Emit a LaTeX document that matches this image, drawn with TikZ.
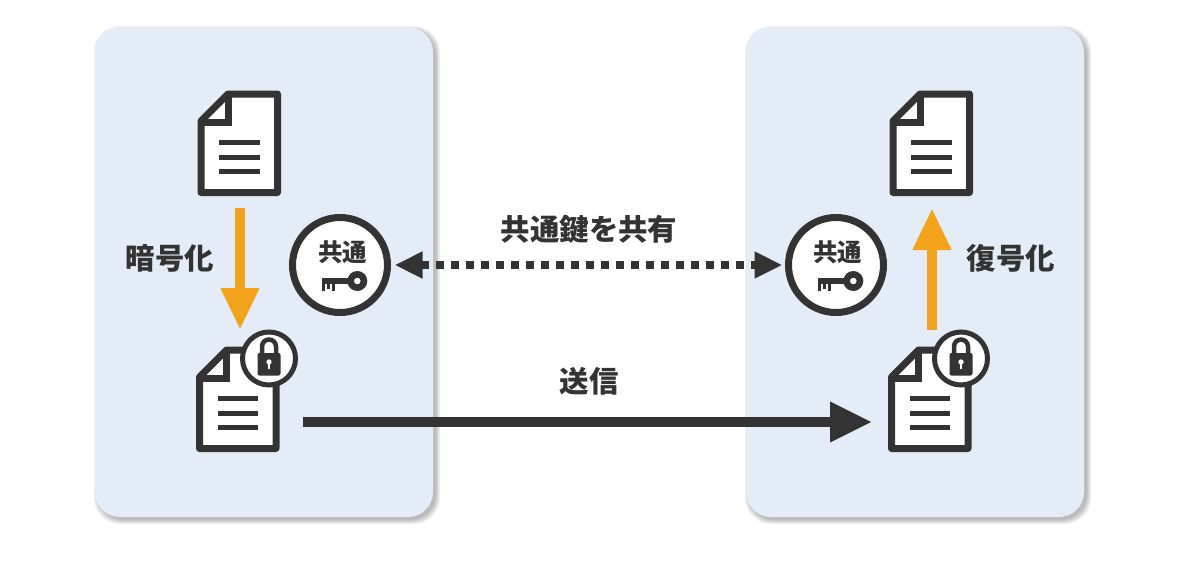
\documentclass[tikz,border=0pt]{standalone}
\usepackage{fontspec}
\setmainfont{Noto Sans CJK JP}
\usetikzlibrary{arrows.meta}

\definecolor{panelblue}{HTML}{E4ECF7}
\definecolor{inkgray}{HTML}{333333}
\definecolor{flowamber}{HTML}{F2A31B}

\tikzset{
    panelbox/.style={fill=panelblue, rounded corners=25pt},
    docnode/.style={minimum width=83pt, minimum height=106pt, inner sep=0pt, outer sep=0pt},
    keynode/.style={circle, draw=inkgray, fill=white, line width=7pt, minimum size=95pt, inner sep=0pt},
    caption/.style={text=inkgray, font=\bfseries\fontsize{29.4}{29}\selectfont, inner sep=0pt},
    smallcaption/.style={text=inkgray, font=\bfseries\fontsize{24.5}{25}\selectfont, inner sep=0pt},
    flowarrow/.style={draw=flowamber, line width=10.5pt, -{Triangle[length=42pt,width=36pt,fill=flowamber]}},
    sendarrow/.style={draw=inkgray, line width=10pt, -{Triangle[length=42pt,width=38pt,fill=inkgray]}},
    sharearrow/.style={draw=inkgray, line width=8pt, dash pattern=on 8pt off 7pt,
        {Triangle[length=28pt,width=25pt,fill=inkgray]}-{Triangle[length=28pt,width=25pt,fill=inkgray]}},
}

\newcommand{\drawdoc}[1]{
    \begin{scope}[shift={(#1)}]
        \draw[inkgray, fill=white, line width=7pt, line join=round]
            (-38,-22) -- (-11,-49) -- (38.5,-49) -- (38.5,49.5) -- (-38,49.5) -- cycle;
        \draw[inkgray, line width=7pt] (-38,-21) -- (-11,-21) -- (-11,-49);
        \fill[inkgray] (-20,-3.5) rectangle (20.5,1.5);
        \fill[inkgray] (-20,11.5) rectangle (20.5,16.5);
        \fill[inkgray] (-20,26) rectangle (20.5,31);
    \end{scope}
}
\newcommand{\drawlock}[1]{
    \begin{scope}[shift={(#1)}]
        \draw[inkgray, fill=white, line width=5pt] (0,0) circle (26.5);
        \draw[inkgray, line width=4.5pt] (-7,-5) -- (-7,-12) arc[start angle=180, end angle=360, radius=7] -- (7,-5);
        \fill[inkgray, rounded corners=2pt] (-11.5,-5.5) rectangle (11.5,17);
        \fill[white] (0,3.5) circle (2.7);
        \fill[white] (-1.2,3.5) rectangle (1.2,10.5);
    \end{scope}
}
\newcommand{\drawkey}[1]{
    \begin{scope}[shift={(#1)}]
        \fill[inkgray] (-18.5,12.8) rectangle (10,19.2);
        \fill[inkgray] (-18,18) rectangle (-15,26);
        \fill[inkgray] (-13,18) rectangle (-10,24);
        \fill[inkgray] (-8,18) rectangle (-5,26);
        \fill[inkgray, even odd rule] (17.3,16) circle (10) (17.3,16) circle (3.4);
    \end{scope}
}

\begin{document}
\begin{tikzpicture}[x=1pt, y=-1pt]
    \useasboundingbox (0,0) rectangle (1179,576);

    % panels with a soft shadow
    \foreach \grow in {4,3,2,1,0}{
        \fill[black, opacity=0.06, rounded corners=26pt]
            (95+3-\grow,27+3-\grow) rectangle (433+3+\grow,517+3+\grow);
        \fill[black, opacity=0.06, rounded corners=26pt]
            (746+3-\grow,27+3-\grow) rectangle (1084+3+\grow,517+3+\grow);
    }
    \fill[panelbox] (95,27) rectangle (433,517);
    \fill[panelbox] (746,27) rectangle (1084,517);

    % documents
    \node[docnode] (plainA) at (239,143) {};
    \node[docnode] (lockedA) at (237.5,399) {};
    \node[docnode] (plainB) at (931,143) {};
    \node[docnode] (lockedB) at (929.5,399) {};
    \drawdoc{plainA}
    \drawdoc{lockedA}
    \drawdoc{plainB}
    \drawdoc{lockedB}
    \drawlock{269,358.5}
    \drawlock{961,358.5}

    % shared keys
    \node[keynode] (keyA) at (340,265) {};
    \node[keynode] (keyB) at (836,265) {};
    \drawkey{keyA}
    \drawkey{keyB}
    \node[smallcaption] (keytextA) at (342.5,252.5) {共通};
    \node[smallcaption] (keytextB) at (837.5,252.5) {共通};

    % connectors
    \coordinate (sendstart) at (303,422);
    \coordinate (sendend) at (872,422);
    \draw[flowarrow, shorten <=12pt, shorten >=16pt] ([xshift=1pt]plainA.south) to ([xshift=1pt]plainA.south |- lockedA.north);
    \draw[flowarrow, shorten <=16pt, shorten >=12pt] ([xshift=1pt]plainB.south |- lockedB.north) to ([xshift=1pt]plainB.south);
    \draw[sharearrow, shorten <=3.5pt, shorten >=2.5pt] (keyA) to (keyB);
    \draw[sendarrow] (sendstart) to (sendend);

    % labels
    \node[caption] (encrypt) at (170,258) {暗号化};
    \node[caption] (decrypt) at (1011,258) {復号化};
    \node[caption] (share) at (589,229) {共通鍵を共有};
    \node[caption] (send) at (589,381) {送信};
\end{tikzpicture}
\end{document}
